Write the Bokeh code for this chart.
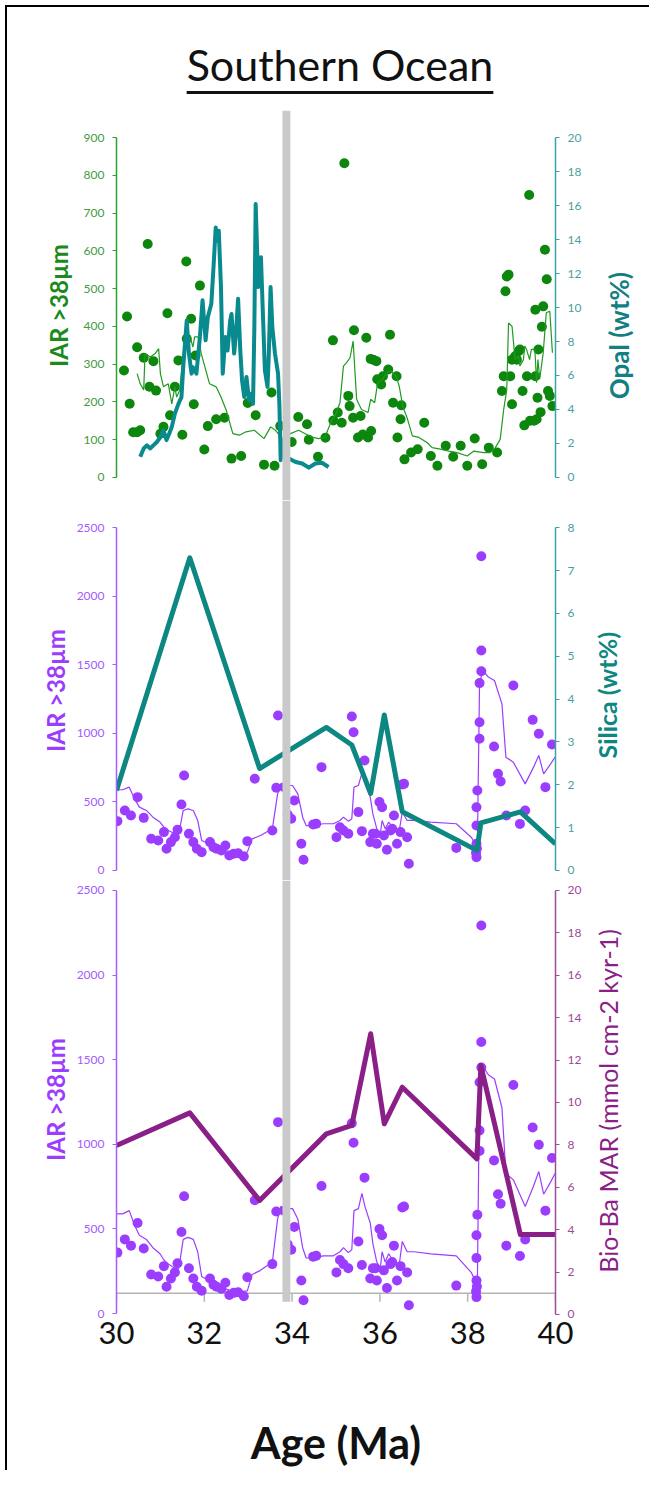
from bokeh.plotting import figure
from bokeh.models import Range1d, LinearAxis, FixedTicker, BoxAnnotation, Span, Div
from bokeh.layouts import column, row
from bokeh.embed import file_html
from bokeh.resources import INLINE

# ---------------- data ----------------
X_TICKS = [30, 32, 34, 36, 38, 40]
EOT_AGE = 33.87

# Panel 1: IAR >38um (green dots + running line) and Opal wt% (teal)
iar1_dot_age = [30.17, 30.24, 30.30, 30.38, 30.47, 30.54, 30.47, 30.62, 30.71, 30.75, 30.84, 30.90,
                31.00, 31.07, 31.16, 31.22, 31.33, 31.41, 31.50, 31.59, 31.60, 31.70, 31.76, 31.80,
                31.90, 32.00, 32.08, 32.27, 32.46, 32.62, 32.84, 32.99, 33.17, 33.36, 33.53, 33.60,
                33.73, 33.99, 34.14, 34.34, 34.38, 34.59, 34.76, 34.93, 34.94, 35.04, 35.13, 35.19,
                35.28, 35.31, 35.39, 35.41, 35.50, 35.56, 35.61, 35.69, 35.73, 35.79, 35.80, 35.86,
                35.92, 35.94, 36.03, 36.07, 36.19, 36.23, 36.30, 36.38, 36.40, 36.47, 36.49, 36.56,
                36.71, 36.86, 37.01, 37.16, 37.31, 37.50, 37.67, 37.84, 37.99, 38.16, 38.33, 38.48,
                38.67, 38.78, 38.82, 38.86, 38.89, 38.93, 38.97, 39.01, 39.01, 39.08, 39.12, 39.16,
                39.19, 39.25, 39.29, 39.35, 39.40, 39.42, 39.51, 39.54, 39.54, 39.57, 39.59, 39.61,
                39.66, 39.69, 39.72, 39.76, 39.80, 39.83, 39.87, 39.93]
iar1_dot_val = [283, 426, 195, 120, 120, 125, 345, 317, 618, 240, 308, 230,
                116, 134, 435, 165, 240, 310, 113, 572, 367, 420, 194, 323,
                508, 74, 136, 154, 158, 50, 57, 197, 165, 34, 225, 31,
                136, 94, 160, 141, 100, 55, 105, 363, 151, 172, 145, 832,
                216, 189, 158, 390, 106, 163, 114, 370, 106, 314, 123, 311,
                308, 260, 246, 268, 286, 378, 198, 268, 106, 154, 191, 48,
                66, 75, 145, 57, 31, 84, 55, 84, 31, 103, 35, 79,
                66, 229, 268, 493, 532, 537, 268, 194, 312, 321, 312, 334,
                339, 229, 138, 268, 748, 150, 150, 444, 268, 154, 211, 339,
                173, 399, 453, 603, 525, 229, 216, 189]

iar1_line_age = [30.47, 30.54, 30.62, 30.65, 30.77, 30.88, 30.96, 31.00, 31.07, 31.18, 31.26, 31.33,
                 31.37, 31.44, 31.52, 31.56, 31.67, 31.74, 31.78, 31.86, 31.93, 32.12, 32.27, 32.38,
                 32.50, 32.65, 32.80, 32.95, 33.14, 33.36, 33.51, 33.62, 33.78, 33.96, 34.15, 34.30,
                 34.45, 34.60, 34.75, 34.90, 34.98, 35.09, 35.17, 35.24, 35.32, 35.39, 35.47, 35.58,
                 35.73, 35.79, 35.88, 35.95, 36.07, 36.14, 36.25, 36.37, 36.44, 36.52, 36.63, 36.74,
                 36.89, 37.08, 37.19, 37.38, 37.57, 37.76, 37.99, 38.14, 38.36, 38.51, 38.63, 38.74,
                 38.82, 38.89, 38.93, 39.01, 39.08, 39.16, 39.19, 39.27, 39.30, 39.34, 39.41, 39.45,
                 39.53, 39.57, 39.60, 39.64, 39.72, 39.79, 39.87, 39.93]
iar1_line_val = [275, 248, 232, 328, 319, 328, 341, 275, 240, 248, 195, 240,
                 213, 231, 328, 372, 376, 345, 372, 372, 328, 248, 240, 213,
                 178, 116, 112, 121, 125, 103, 134, 125, 103, 116, 125, 116,
                 107, 103, 107, 151, 163, 198, 295, 304, 317, 361, 207, 180,
                 172, 207, 198, 251, 260, 277, 282, 268, 242, 189, 154, 110,
                 106, 92, 79, 75, 70, 66, 57, 70, 66, 66, 79, 101,
                 180, 233, 409, 400, 312, 321, 295, 312, 348, 339, 312, 339,
                 339, 251, 312, 260, 330, 436, 440, 330]

opal_age = [30.54, 30.62, 30.69, 30.77, 30.84, 30.92, 31.00, 31.07, 31.14, 31.20, 31.26, 31.33,
            31.41, 31.48, 31.52, 31.60, 31.65, 31.71, 31.74, 31.82, 31.90, 31.96, 32.03, 32.08,
            32.16, 32.21, 32.26, 32.29, 32.33, 32.38, 32.42, 32.48, 32.53, 32.59, 32.62, 32.68,
            32.72, 32.77, 32.82, 32.86, 32.91, 32.96, 33.02, 33.08, 33.11, 33.14, 33.17, 33.23,
            33.29, 33.34, 33.38, 33.44, 33.47, 33.51, 33.55, 33.61, 33.68, 33.71, 33.74, 33.79,
            33.85, 34.08, 34.23, 34.38, 34.53, 34.68, 34.83]
opal_wt = [1.22, 1.71, 1.89, 1.71, 1.89, 2.09, 2.38, 2.78, 2.20, 2.58, 2.98, 3.76,
           4.33, 4.73, 6.49, 9.24, 7.29, 6.11, 6.49, 6.11, 8.27, 10.42, 8.07, 9.42,
           10.22, 12.38, 14.71, 13.93, 14.51, 11.20, 6.11, 8.27, 7.47, 9.24, 9.62, 7.29,
           8.44, 10.51, 7.47, 5.71, 4.73, 5.91, 4.53, 4.93, 4.33, 8.84, 16.09, 11.20,
           12.96, 9.24, 6.31, 5.33, 7.29, 11.20, 8.84, 7.29, 6.11, 4.33, 1.02, 2.20,
           1.22, 0.91, 0.82, 0.58, 0.82, 0.87, 0.62]

# Panels 2 and 3: IAR >38um (purple dots + running line)
iar2_dot_age = [30.02, 30.19, 30.33, 30.48, 30.62, 30.79, 30.95, 31.08, 31.14, 31.24, 31.33, 31.39,
                31.48, 31.54, 31.65, 31.75, 31.83, 31.94, 32.13, 32.21, 32.28, 32.39, 32.48, 32.57,
                32.67, 32.77, 32.90, 32.98, 33.15, 33.55, 33.64, 33.68, 33.82, 33.90, 33.98, 34.05,
                34.21, 34.26, 34.48, 34.55, 34.67, 35.01, 35.09, 35.17, 35.28, 35.36, 35.40, 35.51,
                35.59, 35.65, 35.78, 35.84, 35.90, 35.93, 35.99, 36.05, 36.09, 36.16, 36.24, 36.28,
                36.32, 36.39, 36.47, 36.51, 36.55, 36.62, 36.66, 37.74, 38.19, 38.20, 38.20, 38.21,
                38.20, 38.20, 38.22, 38.27, 38.27, 38.27, 38.31, 38.31, 38.31, 38.60, 38.69, 38.75,
                38.88, 39.04, 39.19, 39.31, 39.48, 39.62, 39.77, 39.92]
iar2_dot_val = [360, 438, 401, 535, 384, 231, 219, 280, 158, 207, 243, 297,
                482, 693, 268, 207, 158, 134, 207, 170, 158, 146, 182, 109,
                122, 126, 102, 214, 669, 292, 603, 1131, 608, 409, 377, 511,
                195, 78, 336, 341, 754, 243, 316, 292, 268, 1124, 1009, 426,
                287, 803, 207, 268, 268, 195, 499, 462, 255, 151, 292, 304,
                401, 195, 280, 627, 632, 243, 49, 165, 130, 97, 195, 160,
                328, 462, 584, 961, 1082, 1367, 1454, 1605, 2293, 905, 705, 649,
                401, 1350, 340, 438, 1099, 997, 608, 919]

iar2_line_age = [30.00, 30.14, 30.29, 30.41, 30.52, 30.68, 30.83, 30.99, 31.08, 31.18, 31.33, 31.42,
                 31.52, 31.63, 31.75, 31.85, 31.94, 32.10, 32.25, 32.48, 32.71, 32.98, 33.09, 33.28,
                 33.55, 33.67, 33.74, 33.90, 34.01, 34.13, 34.24, 34.32, 34.48, 34.71, 34.94, 35.09,
                 35.17, 35.28, 35.36, 35.41, 35.51, 35.59, 35.66, 35.78, 35.84, 35.93, 36.01, 36.05,
                 36.12, 36.20, 36.32, 36.43, 36.51, 36.62, 36.78, 37.16, 37.74, 38.08, 38.22, 38.27,
                 38.35, 38.47, 38.61, 38.78, 38.87, 39.04, 39.31, 39.50, 39.62, 39.73, 39.89, 39.99]
iar2_line_val = [589, 589, 608, 523, 462, 438, 389, 353, 316, 292, 268, 268,
                 438, 450, 438, 365, 219, 195, 170, 146, 126, 134, 231, 255,
                 304, 559, 632, 620, 620, 559, 389, 328, 328, 341, 341, 365,
                 389, 360, 377, 608, 620, 710, 632, 535, 413, 304, 268, 365,
                 304, 353, 304, 268, 426, 365, 365, 353, 341, 243, 170, 1374,
                 1459, 1411, 1386, 1216, 827, 790, 632, 754, 839, 705, 778, 827]

# Silica (wt%) and Bio-Ba MAR share the same sample ages
chem_age = [30.00, 31.67, 33.26, 34.78, 35.36, 35.79, 36.10, 36.51, 38.21, 38.30, 39.20, 40.00]
silica_wt = [1.87, 7.30, 2.38, 3.34, 2.93, 1.80, 3.63, 1.37, 0.47, 1.11, 1.37, 0.62]
bioba_mar = [7.97, 9.51, 5.38, 8.52, 8.92, 13.24, 8.99, 10.72, 7.34, 11.75, 3.77, 3.77]

IAR1_TICKS = list(range(0, 901, 100))
OPAL_TICKS = list(range(0, 21, 2))
IAR2_TICKS = list(range(0, 2501, 500))
SILICA_TICKS = list(range(0, 9, 1))
BIOBA_TICKS = list(range(0, 21, 2))

# ---------------- style ----------------
FONT = "Lato"
GREEN_DOT = "#0d860d"
GREEN_LINE = "#1f9a1f"
GREEN_AXIS = "#2ea02e"
GREEN_TXT = "#3f9a3f"
GREEN_LABEL = "#1b8a1b"
TEAL = "#088a8f"
TEAL_AXIS = "#3aa3a8"
TEAL_TXT = "#4a9fa2"
TEAL_LABEL = "#137f84"
SILICA_C = "#0c8781"
PURPLE = "#9b3dff"
PURPLE_AXIS = "#a65cff"
PURPLE_TXT = "#a35cff"
BIOBA_C = "#8a1f88"
BIOBA_AXIS = "#a04a9d"
BIOBA_TXT = "#9b4a98"
BAR = "#c9c9c9"

LEFT_B, FRAME_W, RIGHT_B = 109, 439, 30
SIDE_W = 50
EOT_HALF = 0.09


def base_fig(frame_h, y0, y1):
    p = figure(frame_width=FRAME_W, frame_height=frame_h,
               x_range=Range1d(30, 40), y_range=Range1d(y0, y1),
               output_backend="svg", toolbar_location=None,
               x_axis_location=None, y_axis_location=None,
               min_border_left=LEFT_B, min_border_right=RIGHT_B,
               min_border_top=0, min_border_bottom=0)
    p.outline_line_color = None
    p.grid.grid_line_color = None
    p.background_fill_color = "white"
    p.border_fill_color = "white"
    return p


def y_axis(ticks, color, txt_color, range_name="default", label=None, label_color=None,
           label_size="24px", standoff=4):
    ax = LinearAxis(y_range_name=range_name)
    ax.ticker = FixedTicker(ticks=ticks)
    ax.bounds = (ticks[0], ticks[-1])
    ax.axis_line_color = color
    ax.axis_line_width = 1.5
    ax.major_tick_line_color = color
    ax.major_tick_line_width = 1.2
    ax.major_tick_out = 4
    ax.major_tick_in = 0
    ax.minor_tick_line_color = None
    ax.major_label_text_color = txt_color
    ax.major_label_text_font = FONT
    ax.major_label_text_font_size = "12px"
    ax.major_label_standoff = 8
    if label:
        ax.axis_label = label
        ax.axis_label_text_color = label_color
        ax.axis_label_text_font = FONT
        ax.axis_label_text_font_size = label_size
        ax.axis_label_text_font_style = "bold"
        ax.axis_label_standoff = standoff
    return ax


def side_label(text, color, size_px, bold, center_x, pad_top, height):
    """Right-hand axis title, reading bottom-to-top, in a narrow Div beside the plot."""
    weight = "bold" if bold else "normal"
    html = ('<div style="box-sizing:border-box;height:%dpx;width:%dpx;padding-top:%dpx;'
            'display:flex;align-items:center;justify-content:flex-start;">'
            '<span style="display:inline-block;margin-left:%dpx;writing-mode:vertical-rl;'
            'transform:rotate(180deg);font-family:Lato;font-size:%dpx;font-weight:%s;'
            'line-height:1;white-space:nowrap;color:%s;">%s</span></div>'
            % (height, SIDE_W, pad_top, center_x - size_px // 2, size_px, weight, color, text))
    return Div(text=html, width=SIDE_W, height=height, margin=0)


def eot_bar(p, **kw):
    p.add_layout(BoxAnnotation(left=EOT_AGE - EOT_HALF, right=EOT_AGE + EOT_HALF,
                               fill_color=BAR, fill_alpha=1.0, line_color=None, **kw))


IAR_LABEL = "IAR >38\u00b5m"

# ---------------- panel 1 ----------------
p1 = base_fig(390, -60.9, 971.5)
p1.extra_y_ranges = {"opal": Range1d(-60.9 / 45, 971.5 / 45)}
p1.add_layout(y_axis(IAR1_TICKS, GREEN_AXIS, GREEN_TXT, label=IAR_LABEL, label_color=GREEN_LABEL,
                     standoff=8), "left")
p1.add_layout(y_axis(OPAL_TICKS, TEAL_AXIS, TEAL_TXT, range_name="opal"), "right")
p1.scatter(iar1_dot_age, iar1_dot_val, size=10, color=GREEN_DOT, line_color=None)
p1.line(iar1_line_age, iar1_line_val, line_color=GREEN_LINE, line_width=1.2)
p1.line(opal_age, opal_wt, line_color=TEAL, line_width=4, line_join="round", y_range_name="opal")
eot_bar(p1)
d1 = side_label("Opal (wt%)", TEAL_LABEL, 26, True, 34, 62, 390)

# ---------------- panel 2 ----------------
p2 = base_fig(380, -73.0, 2699.2)
p2.extra_y_ranges = {"silica": Range1d(-73.0 * 8 / 2500, 2699.2 * 8 / 2500)}
p2.add_layout(y_axis(IAR2_TICKS, PURPLE_AXIS, PURPLE_TXT, label=IAR_LABEL, label_color=PURPLE), "left")
p2.add_layout(y_axis(SILICA_TICKS, TEAL_AXIS, TEAL_TXT, range_name="silica"), "right")
p2.scatter(iar2_dot_age, iar2_dot_val, size=10, color=PURPLE, line_color=None)
p2.line(iar2_line_age, iar2_line_val, line_color=PURPLE, line_width=1.2)
p2.line(chem_age, silica_wt, line_color=SILICA_C, line_width=5, line_join="round", y_range_name="silica")
eot_bar(p2)
d2 = side_label("Silica (wt%)", SILICA_C, 25, True, 22, 10, 380)

# ---------------- panel 3 ----------------
p3 = base_fig(438, -29.5, 2559.1)
p3.extra_y_ranges = {"bioba": Range1d(-0.189, 20.47)}
p3.add_layout(y_axis(IAR2_TICKS, PURPLE_AXIS, PURPLE_TXT, label=IAR_LABEL, label_color=PURPLE), "left")
p3.add_layout(y_axis(BIOBA_TICKS, BIOBA_AXIS, BIOBA_TXT, range_name="bioba"), "right")
p3.add_layout(Span(location=1, dimension="width", y_range_name="bioba", line_color="#b4b4b4",
                   line_width=1.5, level="underlay"))
p3.segment(x0=X_TICKS, y0=[1] * len(X_TICKS), x1=X_TICKS, y1=[0.6] * len(X_TICKS),
           line_color="#b4b4b4", line_width=1.5, y_range_name="bioba", level="underlay")
p3.scatter(iar2_dot_age, iar2_dot_val, size=10, color=PURPLE, line_color=None)
p3.line(iar2_line_age, iar2_line_val, line_color=PURPLE, line_width=1.2)
p3.line(chem_age, bioba_mar, line_color=BIOBA_C, line_width=5, line_join="round", y_range_name="bioba")
eot_bar(p3, bottom=0.6, y_range_name="bioba")
d3 = side_label("Bio-Ba MAR (mmol cm-2 kyr-1)", BIOBA_C, 25, False, 23, 4, 438)

xax = LinearAxis(ticker=FixedTicker(ticks=X_TICKS))
xax.axis_line_color = None
xax.major_tick_line_color = None
xax.minor_tick_line_color = None
xax.major_tick_out = 0
xax.major_tick_in = 0
xax.major_label_standoff = 3
xax.major_label_text_font = FONT
xax.major_label_text_font_size = "31px"
xax.major_label_text_color = "#111111"
xax.axis_label = "Age (Ma)"
xax.axis_label_text_font = FONT
xax.axis_label_text_font_size = "43px"
xax.axis_label_text_font_style = "bold"
xax.axis_label_text_color = "#111111"
xax.axis_label_standoff = 70
p3.add_layout(xax, "below")

TOTAL_W = 639
title = Div(
    text='<div style="font-family:Lato;font-size:43px;line-height:50px;text-align:center;'
         'width:%dpx;box-sizing:border-box;padding-left:17px;padding-top:28px;'
         'text-decoration:underline;text-decoration-thickness:3px;text-underline-offset:10px;'
         'color:#111;">Southern Ocean</div>' % TOTAL_W,
    width=TOTAL_W, height=93)

layout = column(title, row(p1, d1, spacing=0), row(p2, d2, spacing=0), row(p3, d3, spacing=0),
                spacing=0,
                styles={"border-left": "2px solid black", "border-top": "2px solid black",
                        "margin-left": "5px", "margin-top": "5px",
                        "background-color": "white"})

open("out.html", "w").write(file_html(layout, INLINE))
